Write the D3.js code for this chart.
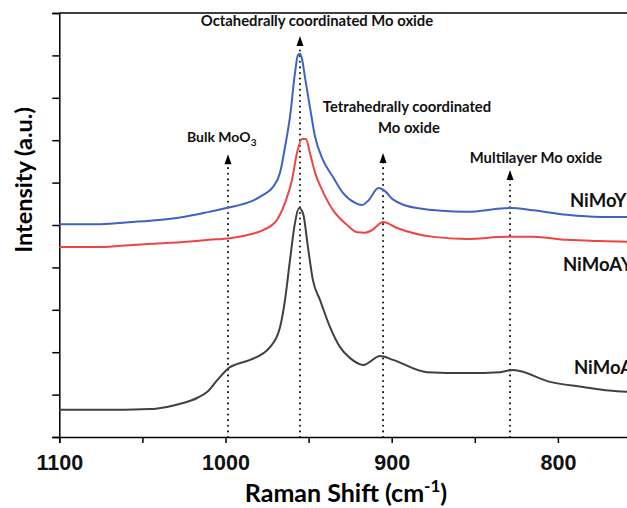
<!DOCTYPE html>
<html>
<head>
<meta charset="utf-8">
<script src="https://cdn.jsdelivr.net/npm/d3@7"></script>
<style>
  html, body { margin: 0; padding: 0; background: #fff; overflow: hidden; }
  svg { display: block; font-family: Lato, "Open Sans", sans-serif; }
</style>
</head>
<body>
<svg id="chart" width="627" height="508"></svg>
<script>
// Raman shift (cm-1) and intensity (a.u.)
const niMoYShift = [1100, 1075, 1056, 1040, 1025.5, 1010, 997.3, 985, 977.4, 971.4, 967.2, 964.2, 961.2, 958.2, 956.4, 955.2, 954, 952.2, 949.2, 946.1, 941.3, 935.3, 929.2, 922, 918, 914, 908, 904, 899.5, 885, 855, 828.8, 815, 794.6, 774.7, 750];
const niMoYInt   = [5.02, 5.02, 5.07, 5.12, 5.19, 5.31, 5.42, 5.55, 5.71, 5.90, 6.23, 6.84, 7.55, 8.58, 9.01, 9.04, 8.92, 8.49, 7.78, 7.08, 6.53, 6.13, 5.75, 5.52, 5.47, 5.58, 5.87, 5.80, 5.61, 5.40, 5.31, 5.40, 5.35, 5.24, 5.19, 5.19];

const niMoAYShift = [1100, 1075, 1056, 1025.5, 1010, 997.3, 985, 977.4, 969, 964.2, 960, 957, 954, 951.6, 949.2, 946.1, 941.9, 935.3, 926.8, 920.8, 916, 911.8, 905.2, 896.8, 875, 855, 831, 815, 794.6, 774.7, 750];
const niMoAYInt   = [4.48, 4.48, 4.53, 4.60, 4.65, 4.69, 4.78, 4.88, 5.12, 5.52, 6.06, 6.70, 7.03, 7.03, 6.70, 6.23, 5.83, 5.35, 5.00, 4.83, 4.82, 4.88, 5.07, 4.93, 4.72, 4.67, 4.72, 4.72, 4.65, 4.62, 4.60];

const niMoAShift = [1100, 1075, 1045.4, 1035.2, 1025.5, 1017.1, 1011.1, 1005, 997.3, 993.1, 985.2, 973.2, 967.2, 964.2, 961.2, 958.2, 955.8, 953.4, 950.4, 947.4, 943.1, 937.1, 931.1, 925, 917.1, 907, 899.2, 878.8, 854.7, 834.8, 827, 804.7, 784.9, 764.4, 750];
const niMoAInt   = [0.64, 0.64, 0.66, 0.71, 0.80, 0.92, 1.06, 1.34, 1.65, 1.72, 1.82, 2.12, 2.59, 3.23, 4.17, 5.05, 5.40, 5.28, 4.48, 3.70, 3.23, 2.59, 2.12, 1.86, 1.70, 1.91, 1.82, 1.53, 1.51, 1.53, 1.58, 1.30, 1.18, 1.08, 1.06];

const xTicks = [1100, 1050, 1000, 950, 900, 850, 800, 750];
const xTickLabels = [1100, 1000, 900, 800];
const yTicks = [0, 1, 2, 3, 4, 5, 6, 7, 8, 9, 10];

const seriesNames = ["NiMoY", "NiMoAY", "NiMoA"];
const seriesColors = ["#3d63c4", "#f04444", "#404040"];

// annotation arrows: position (cm-1) and arrow tip (a.u.)
const arrowShift = [955.2, 998.5, 905.2, 828.8];
const arrowTip   = [9.46, 6.67, 6.70, 6.30];

const svg = d3.select("#chart");
const margin = { left: 59.3, top: 13, bottom: 437 };
const plotRight = 641;

const x = d3.scaleLinear().domain([1100, 750]).range([margin.left, plotRight]);
const y = d3.scaleLinear().domain([0, 10]).range([margin.bottom, margin.top]);

// frame top
svg.append("line")
  .attr("x1", margin.left).attr("x2", plotRight)
  .attr("y1", margin.top).attr("y2", margin.top)
  .attr("stroke", "#000").attr("stroke-width", 1.5);

// x axis
const xAxis = svg.append("g")
  .attr("transform", `translate(0,${margin.bottom})`)
  .call(d3.axisBottom(x).tickValues(xTicks).tickSize(6).tickFormat(d => xTickLabels.includes(d) ? d : ""));
xAxis.select(".domain").attr("stroke-width", 1.5);
xAxis.selectAll(".tick line").attr("stroke-width", 1.5);
xAxis.selectAll(".tick text")
  .attr("dy", "1.1em")
  .style("font-size", "21.5px").style("font-weight", "bold").attr("fill", "#111");

// y axis
const yAxis = svg.append("g")
  .attr("transform", `translate(${margin.left},0)`)
  .call(d3.axisLeft(y).tickValues(yTicks).tickSize(7).tickFormat(""));
yAxis.select(".domain").attr("stroke-width", 1.5);
yAxis.selectAll(".tick line").attr("stroke-width", 1.5);

// axis titles
svg.append("text")
  .attr("transform", "translate(32,180) rotate(-90)")
  .attr("text-anchor", "middle")
  .style("font-size", "23.5px").style("font-weight", "bold")
  .text("Intensity (a.u.)");

const xTitle = svg.append("text")
  .attr("x", 346).attr("y", 502)
  .attr("text-anchor", "middle")
  .style("font-size", "25px").style("font-weight", "bold");
xTitle.append("tspan").text("Raman Shift (cm");
xTitle.append("tspan").attr("dy", -10).style("font-size", "17px").text("-1");
xTitle.append("tspan").attr("dy", 10).text(")");

// annotation arrows
const arrows = svg.append("g");
arrowShift.forEach((s, i) => {
  const ax = x(s), tip = y(arrowTip[i]);
  arrows.append("line")
    .attr("x1", ax).attr("x2", ax)
    .attr("y1", margin.bottom).attr("y2", tip + 9)
    .attr("stroke", "#111").attr("stroke-width", 2)
    .attr("stroke-dasharray", "0.1,5.5").attr("stroke-linecap", "round");
  arrows.append("path")
    .attr("d", `M${ax},${tip} L${ax - 3.5},${tip + 10} L${ax + 3.5},${tip + 10} Z`)
    .attr("fill", "#000");
});

// spectra
const line = d3.line()
  .x(d => x(d[0]))
  .y(d => y(d[1]))
  .curve(d3.curveMonotoneX);

const series = [
  d3.zip(niMoYShift, niMoYInt),
  d3.zip(niMoAYShift, niMoAYInt),
  d3.zip(niMoAShift, niMoAInt)
];

svg.append("g").selectAll("path")
  .data(series)
  .join("path")
  .attr("d", line)
  .attr("fill", "none")
  .attr("stroke", (d, i) => seriesColors[i])
  .attr("stroke-width", 2)
  .attr("stroke-linejoin", "round");

// sample labels
const labelPos = [[570, 207], [563, 271], [574, 374]];
svg.append("g").selectAll("text")
  .data(seriesNames)
  .join("text")
  .attr("x", (d, i) => labelPos[i][0])
  .attr("y", (d, i) => labelPos[i][1])
  .style("font-size", "18.5px").style("font-weight", "bold").attr("fill", "#111")
  .text(d => d);

// annotation texts
const note = (tx, ty, str, size) => svg.append("text")
  .attr("x", tx).attr("y", ty).attr("text-anchor", "middle")
  .style("font-size", size + "px").style("font-weight", "bold").attr("fill", "#111")
  .text(str);

note(317, 26, "Octahedrally coordinated Mo oxide", 14.8);
note(407, 112, "Tetrahedrally coordinated", 14.8);
note(409, 133, "Mo oxide", 14.8);
note(536, 163, "Multilayer Mo oxide", 14.8);

const bulk = svg.append("text")
  .attr("x", 187).attr("y", 142)
  .style("font-size", "14px").style("font-weight", "bold").attr("fill", "#111");
bulk.append("tspan").text("Bulk MoO");
bulk.append("tspan").attr("dy", 4).style("font-size", "10px").text("3");
</script>
</body>
</html>
